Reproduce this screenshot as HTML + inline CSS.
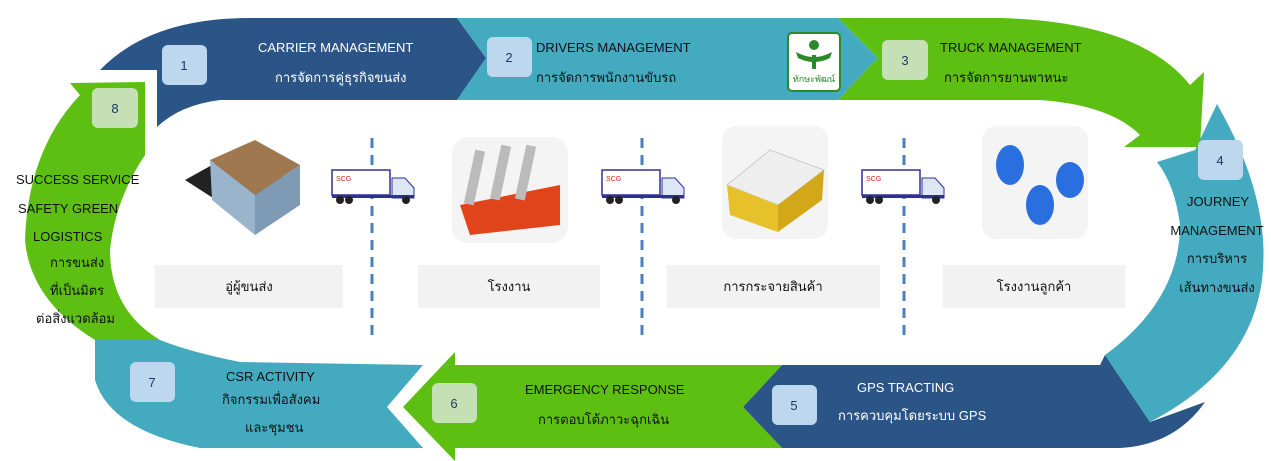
<!DOCTYPE html>
<html><head><meta charset="utf-8"><style>
html,body{margin:0;padding:0;background:#fff;}
svg{display:block;font-family:"Liberation Sans","Noto Sans CJK SC",sans-serif;}
.w{fill:#fff;font-size:13px;}
.b{fill:#111;font-size:13px;}
.n{fill:#1f3864;font-size:13px;text-anchor:middle;}
</style></head><body>
<svg width="1271" height="461" viewBox="0 0 1271 461" xmlns="http://www.w3.org/2000/svg">
<!-- dark blue bottom 5 -->
<path d="M782,365 L1100,365 L1105,355 L1150,422 L1205,402 Q1175,445 1120,448 L782,448 L743,407 Z" fill="#2b5487"/>
<!-- teal right arc 4 -->
<path d="M1217,104 Q1272,200 1262,280 Q1250,370 1150,422 L1105,355 Q1180,300 1180,225 Q1175,185 1157,162 L1195,150 Z" fill="#44aabf"/>
<!-- green bottom 6 -->
<path d="M455,365 L455,352 L403,407 L455,461 L455,448 L782,448 L743,407 L782,365 Z" fill="#5cbf12"/>
<!-- teal 7 -->
<path d="M95,340 L160,340 Q190,352 240,362 L423,365 L387,407 L423,448 L200,448 Q110,430 95,380 Z" fill="#44aabf"/>
<!-- green 8 left arc -->
<path d="M95,340 Q30,300 25,240 Q28,150 80,95 L70,83 L145,82 L145,155 Q115,200 110,250 Q110,310 160,340 Z" fill="#5cbf12"/>
<!-- dark blue top 1 -->
<path d="M100,70 Q150,18 250,18 L457,18 L486,58 L457,100 L220,100 Q180,105 157,127 L157,70 Z" fill="#2b5487"/>
<!-- teal 2 -->
<path d="M457,18 L838,18 L878,58 L838,100 L457,100 L486,58 Z" fill="#44aabf"/>
<!-- green 3 -->
<path d="M838,18 L1000,18 Q1140,22 1190,85 L1204,72 L1200,147 L1124,147 L1140,135 Q1110,105 1040,100 L838,100 L878,58 Z" fill="#5cbf12"/>
<!-- logo -->
<rect x="788" y="33" width="52" height="58" rx="4" fill="#fff" stroke="#2a8a2a" stroke-width="2"/>
<circle cx="814" cy="45" r="5" fill="#2a8a2a"/>
<path d="M796,52 Q814,62 832,52 L830,58 Q814,66 798,58 Z" fill="#2a8a2a"/>
<rect x="812" y="55" width="4" height="14" fill="#2a8a2a"/>
<text x="814" y="82" font-size="9" fill="#2a8a2a" text-anchor="middle">ทักษะพัฒน์</text>
<!-- number boxes -->
<g>
<rect x="162" y="45" width="45" height="40" rx="6" fill="#bdd7ee"/><text class="n" x="184" y="70">1</text>
<rect x="487" y="37" width="45" height="40" rx="6" fill="#bdd7ee"/><text class="n" x="509" y="62">2</text>
<rect x="882" y="40" width="46" height="40" rx="6" fill="#c5e0b4"/><text class="n" x="905" y="65">3</text>
<rect x="1198" y="140" width="45" height="40" rx="6" fill="#bdd7ee"/><text class="n" x="1220" y="165">4</text>
<rect x="772" y="385" width="45" height="40" rx="6" fill="#bdd7ee"/><text class="n" x="794" y="410">5</text>
<rect x="432" y="383" width="45" height="40" rx="6" fill="#c5e0b4"/><text class="n" x="454" y="408">6</text>
<rect x="130" y="362" width="45" height="40" rx="6" fill="#bdd7ee"/><text class="n" x="152" y="387">7</text>
<rect x="92" y="88" width="46" height="40" rx="6" fill="#c5e0b4"/><text class="n" x="115" y="113">8</text>
</g>
<!-- texts -->
<text class="w" x="258" y="52">CARRIER MANAGEMENT</text>
<text class="w" x="275" y="82">การจัดการคู่ธุรกิจขนส่ง</text>
<text class="b" x="536" y="52">DRIVERS MANAGEMENT</text>
<text class="b" x="536" y="82">การจัดการพนักงานขับรถ</text>
<text class="b" x="940" y="52">TRUCK MANAGEMENT</text>
<text class="b" x="944" y="82">การจัดการยานพาหนะ</text>
<text class="b" x="1218" y="206" text-anchor="middle">JOURNEY</text>
<text class="b" x="1217" y="235" text-anchor="middle">MANAGEMENT</text>
<text class="b" x="1217" y="263" text-anchor="middle">การบริหาร</text>
<text class="b" x="1217" y="292" text-anchor="middle">เส้นทางขนส่ง</text>
<text class="w" x="857" y="392">GPS TRACTING</text>
<text class="w" x="838" y="420">การควบคุมโดยระบบ GPS</text>
<text class="b" x="525" y="394">EMERGENCY RESPONSE</text>
<text class="b" x="538" y="424">การตอบโต้ภาวะฉุกเฉิน</text>
<text class="b" x="226" y="381">CSR ACTIVITY</text>
<text class="b" x="222" y="404">กิจกรรมเพื่อสังคม</text>
<text class="b" x="245" y="432">และชุมชน</text>
<text class="b" x="16" y="184">SUCCESS SERVICE</text>
<text class="b" x="18" y="213">SAFETY GREEN</text>
<text class="b" x="33" y="241">LOGISTICS</text>
<text class="b" x="50" y="267">การขนส่ง</text>
<text class="b" x="50" y="295">ที่เป็นมิตร</text>
<text class="b" x="36" y="323">ต่อสิ่งแวดล้อม</text>
<!-- gray labels -->
<rect x="155" y="265" width="188" height="43" fill="#f2f2f2"/><text class="b" x="249" y="291" text-anchor="middle">อู่ผู้ขนส่ง</text>
<rect x="418" y="265" width="182" height="43" fill="#f2f2f2"/><text class="b" x="509" y="291" text-anchor="middle">โรงงาน</text>
<rect x="667" y="265" width="213" height="43" fill="#f2f2f2"/><text class="b" x="773" y="291" text-anchor="middle">การกระจายสินค้า</text>
<rect x="943" y="265" width="182" height="43" fill="#f2f2f2"/><text class="b" x="1034" y="291" text-anchor="middle">โรงงานลูกค้า</text>
<!-- dashed lines -->
<g stroke="#4a7fc0" stroke-width="3" stroke-dasharray="10,7">
<line x1="372" y1="138" x2="372" y2="335"/>
<line x1="642" y1="138" x2="642" y2="335"/>
<line x1="904" y1="138" x2="904" y2="335"/>
</g>
<!-- trucks -->
<g id="t1">
<rect x="332" y="170" width="58" height="25" fill="#fff" stroke="#2e3192" stroke-width="1.5"/>
<text x="336" y="181" font-size="7" fill="#e02020">SCG</text>
<path d="M392,178 L405,178 L414,188 L414,198 L392,198 Z" fill="#dde6f4" stroke="#2e3192"/>
<rect x="332" y="195" width="82" height="3" fill="#2e3192"/>
<circle cx="340" cy="200" r="4" fill="#222"/><circle cx="349" cy="200" r="4" fill="#222"/><circle cx="406" cy="200" r="4" fill="#222"/>
</g>
<use href="#t1" x="270"/>
<use href="#t1" x="530"/>
<!-- icons -->
<g>
<polygon points="185,180 230,155 300,185 255,225" fill="#222"/>
<polygon points="210,160 255,140 300,165 255,195" fill="#a07850"/>
<polygon points="210,160 255,195 255,235 212,200" fill="#9ab4cc"/>
<polygon points="255,195 300,165 300,205 255,235" fill="#7f9ab4"/>
</g>
<rect x="452" y="137" width="116" height="106" rx="16" fill="#f4f4f4"/>
<polygon points="460,205 560,185 560,225 470,235" fill="#e0441b"/>
<rect x="470" y="150" width="10" height="55" fill="#bbb" transform="rotate(12 475 175)"/>
<rect x="495" y="145" width="10" height="55" fill="#bbb" transform="rotate(12 500 175)"/>
<rect x="520" y="145" width="10" height="55" fill="#bbb" transform="rotate(12 525 175)"/>
<rect x="722" y="126" width="106" height="113" rx="14" fill="#f4f4f4"/>
<polygon points="727,185 770,150 824,170 778,205" fill="#eee" stroke="#ccc"/>
<polygon points="727,185 778,205 778,232 730,215" fill="#e6c12a"/>
<polygon points="778,205 824,170 822,200 778,232" fill="#d2a818"/>
<rect x="982" y="126" width="106" height="113" rx="14" fill="#f4f4f4"/>
<g fill="#2a6fe0">
<ellipse cx="1010" cy="165" rx="14" ry="20"/><ellipse cx="1070" cy="180" rx="14" ry="18"/><ellipse cx="1040" cy="205" rx="14" ry="20"/>
</g>
</svg>
</body></html>
